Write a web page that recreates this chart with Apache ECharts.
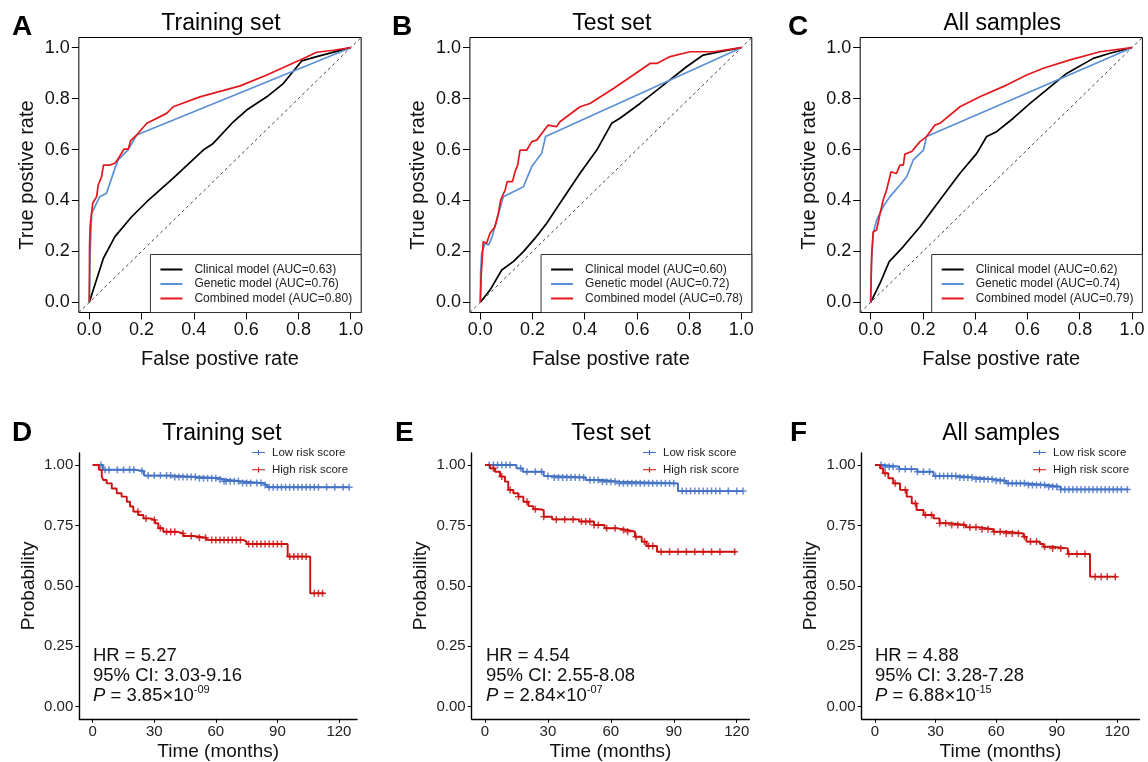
<!DOCTYPE html>
<html><head><meta charset="utf-8">
<script src="https://cdn.jsdelivr.net/npm/echarts@6/dist/echarts.min.js"></script>
<style>html,body{margin:0;padding:0;background:#fff}#c{width:1148px;height:762px}</style>
</head><body><div id="c"></div>
<script>
// ---------------- DATA ----------------
const panelTitles = ['Training set', 'Test set', 'All samples'];
const rocLetters = ['A', 'B', 'C'];
const kmLetters = ['D', 'E', 'F'];
const modelNames = ['Clinical model', 'Genetic model', 'Combined model'];
const aucTrain = ['0.63', '0.76', '0.80'];
const aucTest = ['0.60', '0.72', '0.78'];
const aucAll = ['0.62', '0.74', '0.79'];
const rocTicks = [0, 0.2, 0.4, 0.6, 0.8, 1.0];
const kmXTicks = [0, 30, 60, 90, 120];
const kmYTicks = [0, 0.25, 0.5, 0.75, 1.0];
const riskNames = ['Low risk score', 'High risk score'];
const hrValues = ['5.27', '4.54', '4.88'];
const ciValues = ['3.03-9.16', '2.55-8.08', '3.28-7.28'];
const pMantissa = ['3.85', '2.84', '6.88'];
const pExponent = ['-09', '-07', '-15'];

// ROC curves [FPR, TPR]
const trainClinical = [[0,0],[0.054,0.173],[0.098,0.258],[0.162,0.336],[0.22,0.395],[0.32,0.487],[0.436,0.598],[0.474,0.624],[0.551,0.709],[0.602,0.755],[0.679,0.807],[0.742,0.859],[0.8125,0.948],[0.87,0.965],[1,1]];
const trainGenetic = [[0,0],[0.003,0.18],[0.009,0.35],[0.04,0.415],[0.066,0.428],[0.098,0.526],[0.111,0.56],[0.149,0.6],[0.181,0.657],[1,1]];
const trainCombined = [[0,0],[0.001,0.22],[0.003,0.297],[0.013,0.389],[0.028,0.415],[0.034,0.46],[0.047,0.493],[0.054,0.539],[0.079,0.539],[0.098,0.546],[0.111,0.565],[0.133,0.602],[0.149,0.602],[0.158,0.635],[0.181,0.657],[0.22,0.703],[0.226,0.71],[0.296,0.742],[0.321,0.768],[0.423,0.807],[0.577,0.85],[0.679,0.893],[0.806,0.952],[0.87,0.982],[0.934,0.99],[1,1]];

const testClinical = [[0,0],[0.037,0.048],[0.082,0.127],[0.126,0.16],[0.165,0.199],[0.209,0.251],[0.254,0.31],[0.305,0.389],[0.382,0.507],[0.446,0.598],[0.503,0.703],[0.535,0.723],[0.612,0.781],[0.701,0.853],[0.79,0.925],[0.854,0.971],[0.918,0.984],[1,1]];
const testGenetic = [[0,0],[0.001,0.114],[0.005,0.192],[0.018,0.232],[0.031,0.225],[0.043,0.251],[0.063,0.323],[0.088,0.415],[0.165,0.454],[0.197,0.533],[0.235,0.585],[0.25,0.651],[1,1]];
const testCombined = [[0,0],[0.003,0.1],[0.011,0.238],[0.024,0.232],[0.037,0.271],[0.056,0.297],[0.069,0.35],[0.078,0.402],[0.095,0.441],[0.103,0.474],[0.123,0.474],[0.133,0.513],[0.143,0.539],[0.152,0.598],[0.178,0.598],[0.197,0.631],[0.216,0.637],[0.26,0.696],[0.292,0.69],[0.305,0.709],[0.382,0.768],[0.42,0.781],[0.51,0.84],[0.586,0.893],[0.65,0.938],[0.676,0.938],[0.727,0.965],[0.803,0.984],[0.893,0.984],[1,1]];

const allClinical = [[0,0],[0.036,0.075],[0.071,0.16],[0.125,0.219],[0.189,0.297],[0.265,0.402],[0.342,0.507],[0.406,0.585],[0.444,0.651],[0.482,0.67],[0.546,0.723],[0.61,0.781],[0.673,0.834],[0.75,0.899],[0.852,0.958],[0.916,0.978],[1,1]];
const allGenetic = [[0,0],[0.003,0.153],[0.01,0.271],[0.023,0.323],[0.048,0.376],[0.074,0.415],[0.112,0.461],[0.138,0.493],[0.163,0.559],[0.202,0.598],[0.214,0.651],[1,1]];
const allCombined = [[0,0],[0.004,0.192],[0.01,0.277],[0.023,0.284],[0.036,0.349],[0.048,0.402],[0.061,0.441],[0.078,0.513],[0.099,0.506],[0.112,0.539],[0.125,0.539],[0.131,0.582],[0.157,0.592],[0.189,0.631],[0.214,0.651],[0.246,0.696],[0.265,0.703],[0.342,0.768],[0.418,0.807],[0.52,0.853],[0.597,0.893],[0.661,0.919],[0.763,0.952],[0.878,0.984],[1,1]];

// Kaplan-Meier step data [time, survival]
const trainLow = [[0,1],[5,0.98],[21,0.975],[25,0.956],[39,0.95],[51,0.945],[62,0.94],[64,0.933],[72,0.925],[83,0.917],[85,0.908],[125,0.908]];
const trainHigh = [[0,1],[3,0.98],[4.4,0.952],[5.2,0.938],[6.8,0.924],[9.3,0.903],[11.7,0.883],[14.1,0.869],[16.6,0.848],[18.2,0.828],[19.8,0.807],[22.2,0.793],[24.7,0.779],[27.9,0.772],[30.4,0.759],[32,0.738],[34.4,0.724],[40.9,0.717],[44.2,0.706],[49,0.699],[55.5,0.69],[73.4,0.683],[75,0.673],[95,0.621],[106,0.469],[113,0.469]];
const testLow = [[0,1],[15,0.986],[18,0.972],[28,0.954],[33,0.948],[48,0.938],[56,0.931],[64,0.924],[92,0.892],[123,0.892]];
const testHigh = [[0,1],[2.4,0.986],[4.8,0.972],[7.2,0.952],[9.5,0.931],[11.1,0.897],[13.5,0.883],[15.9,0.869],[18.3,0.848],[20.7,0.83],[23,0.817],[26,0.814],[28,0.786],[32,0.775],[45,0.766],[52,0.752],[57,0.738],[63,0.731],[68,0.724],[71.5,0.703],[74.7,0.683],[77,0.665],[82,0.641],[119.7,0.641]];
const allLow = [[0,1],[4,0.993],[12,0.983],[21,0.972],[29,0.954],[42,0.948],[49,0.941],[59,0.935],[65,0.924],[75,0.917],[85,0.91],[92,0.899],[125.5,0.899]];
const allHigh = [[0,1],[2.5,0.986],[4,0.966],[6.6,0.945],[9,0.924],[12.4,0.897],[15.7,0.869],[18.2,0.841],[20.6,0.814],[24,0.793],[29,0.779],[32,0.759],[37,0.752],[45,0.742],[52,0.734],[58.6,0.724],[65,0.717],[73.5,0.703],[75,0.683],[81.7,0.673],[83.4,0.662],[88,0.655],[95.5,0.632],[106.5,0.538],[119.7,0.538]];

// Censoring times
const trainLowCens = [4,6,8,12,15,18,20,24,27,30,33,36,38,40,42,44,46,48,50,52,54,56,58,60,62,64,65,67,69,71,73,75,77,80,82,84,86,88,90,92,94,96,98,100,102,104,106,108,110,114,118,122,125];
const trainHighCens = [22,26,30,33,36,38,40,44,48,52,55,58,60,62,64,66,68,70,72,76,78,80,82,84,86,88,90,92,96,98,100,102,104,108,110,112];
const testLowCens = [2,4,6,8,10,12,17,20,24,27,30,33,35,37,39,41,43,45,47,50,52,54,56,58,60,62,64,66,68,70,72,74,76,78,80,82,84,86,88,90,94,96,98,100,102,104,106,108,110,112,116,120,123];
const testHighCens = [4,8,12,16,20,24,28,34,38,42,46,48,50,52,54,58,62,66,68,72,76,78,80,84,88,92,96,100,104,108,112,119];
const allLowCens = [3,5,7,9,12,15,18,21,24,27,30,32,34,36,38,40,42,44,46,48,50,52,54,56,58,60,62,64,66,68,70,72,74,76,78,80,82,84,86,88,90,92,94,96,98,100,102,104,106,108,110,112,114,116,118,120,122,125];
const allHighCens = [5,10,15,20,25,28,32,35,38,41,44,47,50,53,56,59,62,65,68,71,74,77,80,84,88,92,96,100,104,109,112,115,119];

// ---------------- LAYOUT / STYLE ----------------
const FONT = '"Liberation Sans", Arial, Helvetica, sans-serif';
const rocColors = ['#000000', '#5b8fd6', '#e3171c'];
const kmColors = ['#4170c4', '#cc0f0f'];
const rocLayout = [
  {left: 78.85, width: 282.3, legRight: 786.85},
  {left: 469.9, width: 281.9, legRight: 396.2},
  {left: 860.2, width: 282.2, legRight: 5.6}
];
const kmLayout = [
  {left: 79.3, width: 277.7, xmin: -6.53, xmax: 128.8, legLeft: 252, textX: 93},
  {left: 471.7, width: 277.6, xmin: -6.34, xmax: 126.0, legLeft: 643, textX: 486},
  {left: 861.7, width: 277.6, xmin: -6.59, xmax: 130.9, legLeft: 1033, textX: 875}
];
const rocCurves = [[trainClinical, trainGenetic, trainCombined], [testClinical, testGenetic, testCombined], [allClinical, allGenetic, allCombined]];
const rocAUC = [aucTrain, aucTest, aucAll];
const kmCurves = [[trainLow, trainHigh], [testLow, testHigh], [allLow, allHigh]];
const kmCens = [[trainLowCens, trainHighCens], [testLowCens, testHighCens], [allLowCens, allHighCens]];

function survAt(steps, t) {
  let s = steps[0][1];
  for (const p of steps) { if (p[0] <= t) s = p[1]; else break; }
  return s;
}

const grids = [], xAxes = [], yAxes = [], series = [], legends = [], graphics = [];
const plusPath = 'path://M3.9,0H6.1V10H3.9ZM0,3.9H10V6.1H0Z';

rocLayout.forEach((L, i) => {
  grids.push({left: L.left, top: 37.5, width: L.width, height: 275, show: true, borderColor: '#000', borderWidth: 1, backgroundColor: 'transparent'});
  const common = {
    type: 'value', gridIndex: i, min: -0.04, max: 1.04,
    axisLine: {show: false, onZero: false},
    splitLine: {show: false},
    axisTick: {show: true, length: 7, customValues: rocTicks, lineStyle: {color: '#000', width: 1}},
    axisLabel: {customValues: rocTicks, formatter: v => v.toFixed(1), fontSize: 18, color: '#111', fontFamily: FONT, margin: 9},
    nameLocation: 'middle', nameTextStyle: {fontSize: 20, color: '#111', fontFamily: FONT}
  };
  xAxes.push(Object.assign({}, common, {name: 'False postive rate', nameGap: 37}));
  yAxes.push(Object.assign({}, common, {name: 'True postive rate', nameGap: 41}));
  series.push({type: 'line', xAxisIndex: i, yAxisIndex: i, data: [[-0.04, -0.04], [1.04, 1.04]], showSymbol: false, silent: true,
    lineStyle: {color: '#444', width: 1, type: [3, 3]}, z: 1});
  const names = [];
  rocCurves[i].forEach((curve, k) => {
    const nm = modelNames[k] + ' (AUC=' + rocAUC[i][k] + ')';
    names.push(nm);
    series.push({type: 'line', name: nm, xAxisIndex: i, yAxisIndex: i, data: curve, showSymbol: false,
      lineStyle: {color: rocColors[k], width: 1.7}, itemStyle: {color: rocColors[k]}, z: 2 + k});
  });
  legends.push({data: names, orient: 'vertical', right: L.legRight, bottom: 449.5, icon: 'rect', itemWidth: 22, itemHeight: 2,
    itemGap: 0.5, padding: [8, 9, 7, 10], borderColor: '#333', borderWidth: 1, backgroundColor: '#fff', selectedMode: false,
    textStyle: {fontSize: 12, color: '#222', fontFamily: FONT, lineHeight: 14, padding: [0, 0, 0, 7]}});
  graphics.push({type: 'text', x: [12, 392, 788][i], y: 27.5, style: {text: rocLetters[i], font: 'bold 28px ' + FONT, fill: '#000', verticalAlign: 'middle'}});
  graphics.push({type: 'text', x: L.left + L.width / 2 + 1, y: 23.5, style: {text: panelTitles[i], font: '23px ' + FONT, fill: '#000', align: 'center', verticalAlign: 'middle'}});
});

kmLayout.forEach((L, j) => {
  const g = 3 + j;
  grids.push({left: L.left, top: 452.9, width: L.width, height: 265.9});
  xAxes.push({type: 'value', gridIndex: g, min: L.xmin, max: L.xmax,
    axisLine: {show: true, onZero: false, lineStyle: {color: '#000', width: 1.4}},
    splitLine: {show: false},
    axisTick: {show: true, length: 4, customValues: kmXTicks, lineStyle: {color: '#000', width: 1}},
    axisLabel: {customValues: kmXTicks, fontSize: 15, color: '#222', fontFamily: FONT, margin: 6},
    name: 'Time (months)', nameLocation: 'middle', nameGap: 23, nameTextStyle: {fontSize: 19, color: '#111', fontFamily: FONT}});
  yAxes.push({type: 'value', gridIndex: g, min: -0.05, max: 1.05,
    axisLine: {show: true, onZero: false, lineStyle: {color: '#000', width: 1.4}},
    splitLine: {show: false},
    axisTick: {show: true, length: 4, customValues: kmYTicks, lineStyle: {color: '#000', width: 1}},
    axisLabel: {customValues: kmYTicks, formatter: v => v.toFixed(2), fontSize: 15, color: '#222', fontFamily: FONT, margin: 6},
    name: 'Probability', nameLocation: 'middle', nameGap: 41, nameTextStyle: {fontSize: 19, color: '#111', fontFamily: FONT}});
  kmCurves[j].forEach((steps, k) => {
    series.push({type: 'line', name: riskNames[k], xAxisIndex: g, yAxisIndex: g, data: steps, step: 'end', showSymbol: false,
      lineStyle: {color: kmColors[k], width: 1.9}, itemStyle: {color: kmColors[k]}, z: 2 + 2 * k});
    series.push({type: 'scatter', xAxisIndex: g, yAxisIndex: g, silent: true, symbol: plusPath, symbolSize: 7,
      data: kmCens[j][k].map(t => [t, survAt(steps, t)]), itemStyle: {color: kmColors[k]}, z: 3 + 2 * k});
  });
  legends.push({data: riskNames.map(n => ({name: n, icon: 'path://M0,4.2H20V5.8H0ZM9.1,1H10.9V9H9.1Z'})), orient: 'vertical',
    left: L.legLeft, top: 446, itemWidth: 13, itemHeight: 8, itemGap: 4.3, padding: 0, selectedMode: false,
    textStyle: {fontSize: 11.5, color: '#222', fontFamily: FONT, lineHeight: 13, padding: [0, 0, 0, 2]}});
  graphics.push({type: 'text', x: [12, 395, 790][j], y: 433, style: {text: kmLetters[j], font: 'bold 28px ' + FONT, fill: '#000', verticalAlign: 'middle'}});
  graphics.push({type: 'text', x: [222, 611, 1001][j], y: 434, style: {text: panelTitles[j], font: '23px ' + FONT, fill: '#000', align: 'center', verticalAlign: 'middle'}});
  graphics.push({type: 'text', x: L.textX, y: 655.5, style: {text: 'HR = ' + hrValues[j], font: '18.5px ' + FONT, fill: '#111', verticalAlign: 'middle'}});
  graphics.push({type: 'text', x: L.textX, y: 675.5, style: {text: '95% CI: ' + ciValues[j], font: '18.5px ' + FONT, fill: '#111', verticalAlign: 'middle'}});
  graphics.push({type: 'text', x: L.textX, y: 695.5, style: {
    text: '{i|P} = ' + pMantissa[j] + '×10{s|' + pExponent[j] + '}', font: '18.5px ' + FONT, fill: '#111', verticalAlign: 'middle',
    rich: {i: {fontStyle: 'italic', fontSize: 18.5, fontFamily: FONT, lineHeight: 22}, s: {fontSize: 11, fontFamily: FONT, verticalAlign: 'top', lineHeight: 13}}}});
});

const chart = echarts.init(document.getElementById('c'), null, {renderer: 'canvas'});
chart.setOption({
  animation: false,
  backgroundColor: '#fff',
  textStyle: {fontFamily: FONT},
  grid: grids, xAxis: xAxes, yAxis: yAxes, series: series, legend: legends, graphic: graphics
});
</script></body></html>
